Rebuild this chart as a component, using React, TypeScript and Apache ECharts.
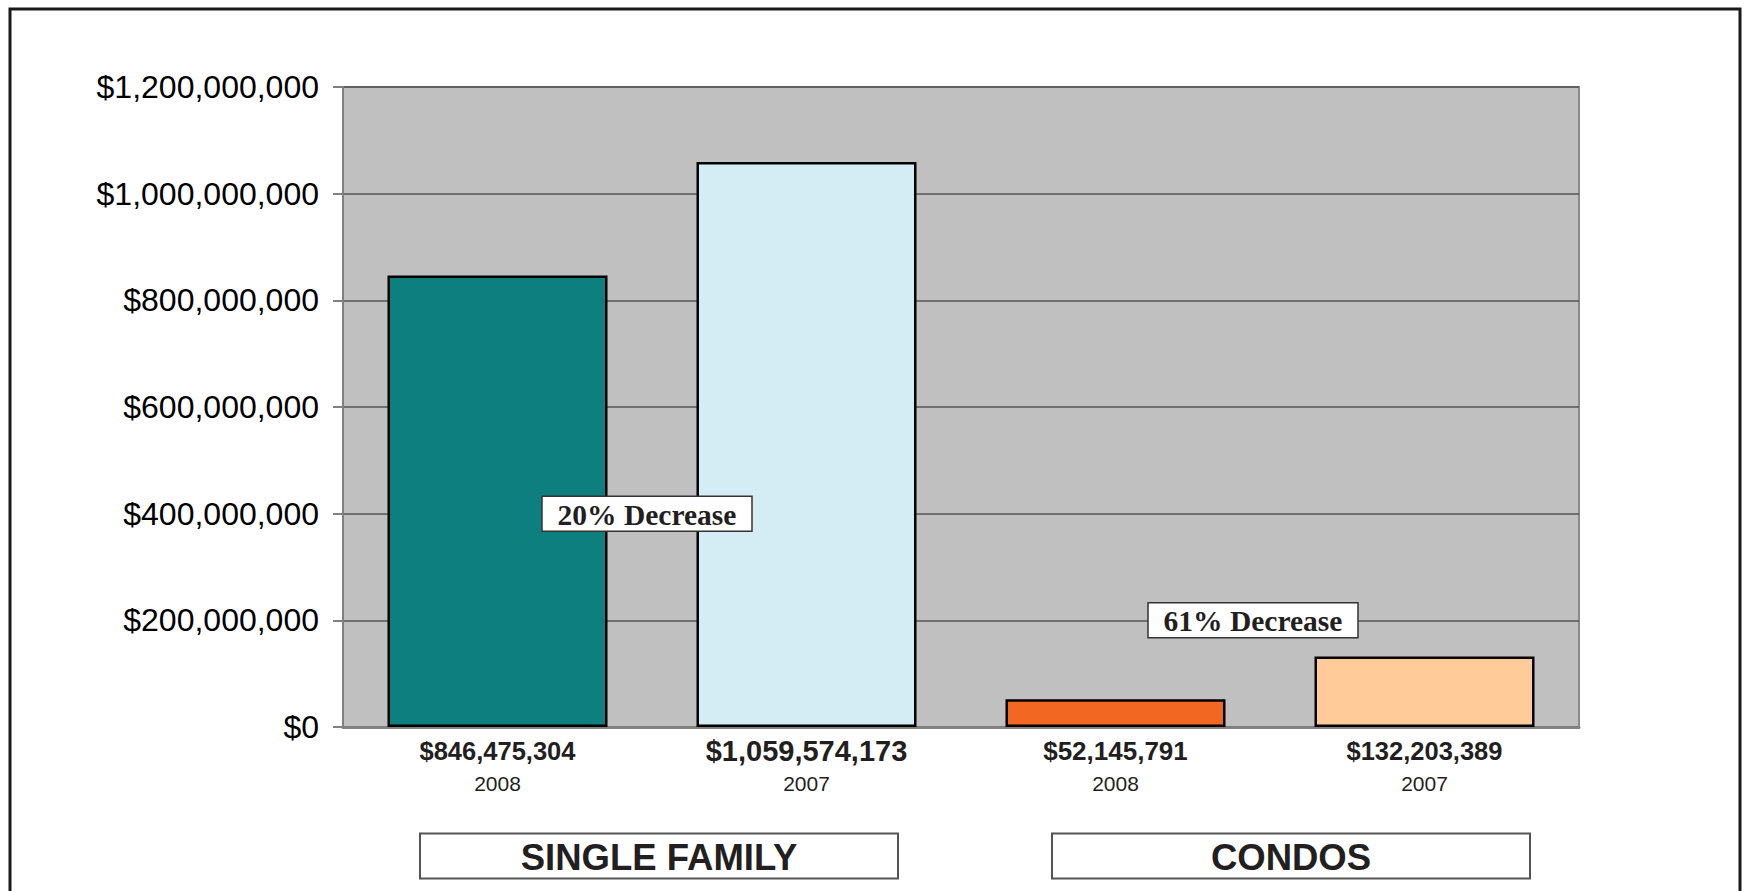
import React, { useEffect, useRef } from "react";
import * as echarts from "echarts";

const categories = ["Single Family 2008", "Single Family 2007", "Condos 2008", "Condos 2007"];
const years = ["2008", "2007", "2008", "2007"];
const values = [846475304, 1059574173, 52145791, 132203389];
const groups = ["SINGLE FAMILY", "CONDOS"];
const decreaseLabels = ["20% Decrease", "61% Decrease"];
const decreaseLevels = [400000000, 200000000];
const yMin = 0;
const yMax = 1200000000;
const yInterval = 200000000;

const barColors = ["#0E7F7F", "#D4ECF4", "#F26722", "#FFCC99"];
const valueLabelSizes = [25.5, 29, 26, 25.5];
const sans = "'Liberation Sans', Arial, Helvetica, sans-serif";
const serif = "'Liberation Serif', 'Times New Roman', serif";

const fmt = (n: number) => "$" + Math.round(n).toLocaleString("en-US");

export default function App() {
  const ref = useRef<HTMLDivElement>(null);
  useEffect(() => {
    document.body.style.margin = "0";
    if (!ref.current) return;
    const chart = echarts.init(ref.current, undefined, { renderer: "svg" });
    const rich: any = {
      y: { fontFamily: sans, fontSize: 21, lineHeight: 32, color: "#231f20" },
    };
    valueLabelSizes.forEach((s, i) => {
      rich["v" + i] = { fontFamily: sans, fontWeight: "bold", fontSize: s, lineHeight: 32, color: "#231f20" };
    });
    chart.setOption({
      animation: false,
      backgroundColor: "#ffffff",
      grid: {
        left: 343,
        top: 87,
        right: 166,
        bottom: 164,
        show: true,
        backgroundColor: "#C0C0C0",
        borderColor: "#8a8a8a",
        borderWidth: 2,
      },
      xAxis: {
        type: "category",
        data: categories,
        axisTick: { show: false },
        axisLine: { show: true, lineStyle: { color: "#808080", width: 3 } },
        axisLabel: {
          margin: 8,
          interval: 0,
          formatter: (_v: string, idx: number) => `{v${idx}|${fmt(values[idx])}}\n{y|${years[idx]}}`,
          rich,
        },
      },
      yAxis: {
        type: "value",
        min: yMin,
        max: yMax,
        interval: yInterval,
        axisLine: { show: true, lineStyle: { color: "#808080", width: 2 } },
        axisTick: { show: true, length: 10, lineStyle: { color: "#808080", width: 2 } },
        splitLine: { show: true, lineStyle: { color: "#555555", width: 1.5 } },
        axisLabel: {
          margin: 24,
          fontFamily: sans,
          fontSize: 32,
          color: "#000000",
          formatter: (v: number) => fmt(v),
        },
      },
      series: [
        {
          type: "bar",
          barCategoryGap: "28.8%",
          data: values.map((v, i) => ({
            value: v,
            itemStyle: { color: barColors[i], borderColor: "#000000", borderWidth: 2.5 },
          })),
        },
      ],
    });

    const xs = categories.map((c) => chart.convertToPixel({ xAxisIndex: 0 }, c) as number);
    const graphics: any[] = [
      {
        type: "rect",
        z: 100,
        shape: { x: 10, y: 9, width: 1730, height: 1000 },
        style: { fill: "none", stroke: "#1a1a1a", lineWidth: 3 },
      },
    ];
    const groupOffsets = [7, 21];
    groups.forEach((g, gi) => {
      const cx = (xs[gi * 2] + xs[gi * 2 + 1]) / 2 + groupOffsets[gi];
      graphics.push({
        type: "group",
        x: cx,
        y: 856,
        children: [
          {
            type: "rect",
            z: 100,
            shape: { x: -239, y: -22.5, width: 478, height: 45 },
            style: { fill: "#ffffff", stroke: "#555555", lineWidth: 2 },
          },
          {
            type: "text",
            z: 101,
            x: 0,
            y: 1,
            style: {
              text: g,
              fontFamily: sans,
              fontWeight: "bold",
              fontSize: 36.5,
              fill: "#231f20",
              align: "center",
              verticalAlign: "middle",
            },
          },
        ],
      });
    });
    const decOffsets = [-5, -17];
    decreaseLabels.forEach((t, di) => {
      const cx = (xs[di * 2] + xs[di * 2 + 1]) / 2 + decOffsets[di];
      const cy = chart.convertToPixel({ yAxisIndex: 0 }, decreaseLevels[di]) as number;
      graphics.push({
        type: "group",
        x: cx,
        y: cy,
        children: [
          {
            type: "rect",
            z: 100,
            shape: { x: -105, y: -17.5, width: 210, height: 35 },
            style: { fill: "#ffffff", stroke: "#333333", lineWidth: 1.5 },
          },
          {
            type: "text",
            z: 101,
            x: 0,
            y: 1,
            style: {
              text: t,
              fontFamily: serif,
              fontWeight: "bold",
              fontSize: 29.5,
              fill: "#231f20",
              align: "center",
              verticalAlign: "middle",
            },
          },
        ],
      });
    });
    chart.setOption({ graphic: graphics });

    return () => chart.dispose();
  }, []);
  return <div ref={ref} style={{ width: 1745, height: 891 }} />;
}
